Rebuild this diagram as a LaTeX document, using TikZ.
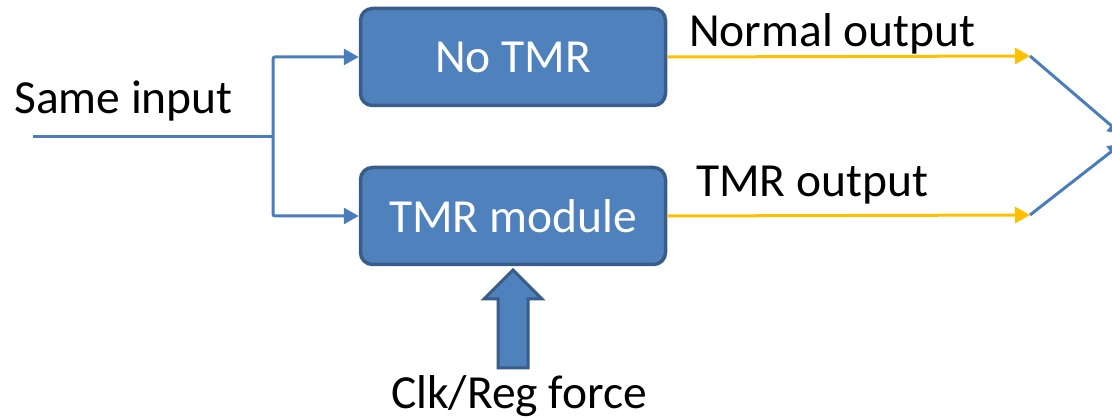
\documentclass[tikz,border=0pt]{standalone}
\usepackage{fontspec}
\setmainfont{Carlito}
\usetikzlibrary{arrows.meta}
\definecolor{boxfill}{HTML}{4F81BD}
\definecolor{boxline}{HTML}{385D8A}
\definecolor{wire}{HTML}{4A7EBB}
\definecolor{gold}{HTML}{FFC000}
\tikzset{
  blk/.style={draw=boxline, line width=3.5pt, fill=boxfill, rounded corners=12pt,
    minimum width=305pt, minimum height=97pt, inner sep=0pt, text=white,
    font=\fontsize{47.5}{56}\selectfont},
  lbl/.style={inner sep=0pt, font=\fontsize{47.5}{56}\selectfont},
  bwire/.style={draw=wire, line width=3pt},
  tipb/.style={-{Triangle[length=15pt,width=16pt]}},
  ywire/.style={draw=gold, line width=3pt, -{Triangle[length=15pt,width=16pt]}},
}
\begin{document}
\begin{tikzpicture}[x=1pt,y=-1pt]
\useasboundingbox (0,0) rectangle (1112,419);
\clip (0,0) rectangle (1112,419);
\node[blk] (notmr) at (513,57) {No TMR};
\node[blk] (tmr) at (513,216) {TMR module};
\node[lbl, anchor=west] (same) at (14,101) {Same input};
\node[lbl, anchor=west] (normal) at (689,34) {Normal output};
\node[lbl, anchor=west] (tmrout) at (696,185) {TMR output};
\node[lbl] (clk) at (519,396) {Clk/Reg force};
\coordinate (in) at (33,137);
\coordinate (split) at (273,137);
\coordinate (o1) at (1030,56);
\coordinate (o2) at (1030,215);
\coordinate (v1) at (1121,134);
\coordinate (v2) at (1121,144);
\draw[bwire] (in) -- (split);
\draw[bwire, tipb, rounded corners=2pt] (split) |- (notmr.west);
\draw[bwire, tipb, rounded corners=2pt] (split) |- (tmr.west);
\draw[ywire] (notmr.east) -- (o1);
\draw[ywire] (tmr.east) -- (o2);
\draw[bwire, -{Triangle[length=13pt,width=14pt]}] (o1) -- (v1);
\draw[bwire, -{Triangle[length=13pt,width=14pt]}] (o2) -- (v2);
\draw[draw=boxline, fill=boxfill, line width=3pt, line join=miter]
  (498,368) -- (498,299) -- (484,299) -- (513,270) -- (542,299) -- (528,299) -- (528,368) -- cycle;
\end{tikzpicture}
\end{document}
